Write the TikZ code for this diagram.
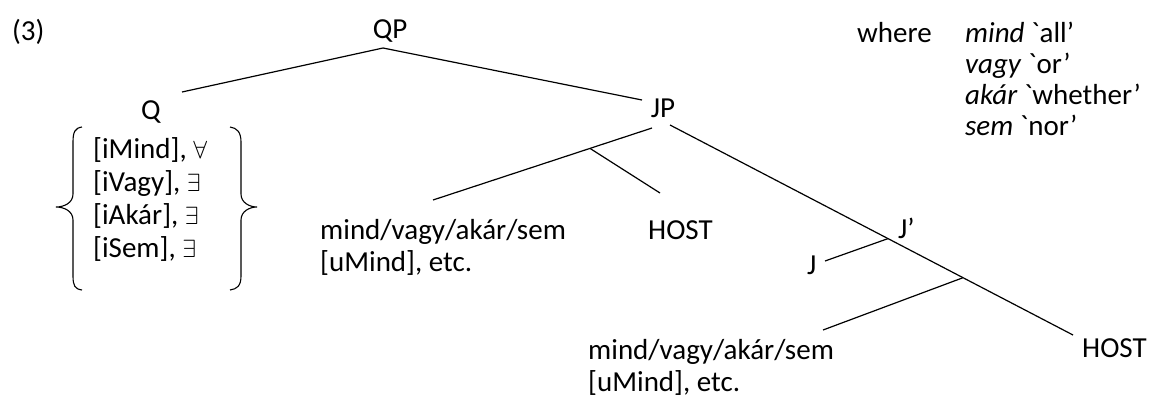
\documentclass[tikz,border=0pt]{standalone}
\usepackage{fontspec}
\setmainfont{Carlito}
\begin{document}
\begin{tikzpicture}[x=1pt,y=-1pt,
  lbl/.style={font=\fontsize{29}{32}\selectfont, inner sep=0pt, anchor=base west},
  lblc/.style={font=\fontsize{29}{32}\selectfont, inner sep=0pt, anchor=base},
  ln/.style={line width=1.2pt},
  brc/.style={line width=1.1pt}]
\useasboundingbox (0,0) rectangle (1164,400);
% labels
\node[lbl] (ex) at (12,40) {(3)};
\node[lblc] (qp) at (390,38) {QP};
\node[lblc] (q) at (151,119) {Q};
\node[lblc] (jp) at (663,117) {JP};
\node[lbl] (r1) at (93,158) {[iMind], $\forall$};
\node[lbl] (r2) at (93,191) {[iVagy], $\exists$};
\node[lbl] (r3) at (93,224) {[iAkár], $\exists$};
\node[lbl] (r4) at (93,257) {[iSem], $\exists$};
\node[lbl] (mva) at (320,239) {mind/vagy/akár/sem};
\node[lbl] (uma) at (320,271) {[uMind], etc.};
\node[lbl] (hosta) at (648,239) {HOST};
\node[lbl] (jbar) at (898,238) {J’};
\node[lbl] (j) at (807,274) {J};
\node[lbl] (mvb) at (588,359) {mind/vagy/akár/sem};
\node[lbl] (umb) at (588,391) {[uMind], etc.};
\node[lbl] (hostb) at (1082,357) {HOST};
\node[lbl] (where) at (857,42) {where};
\node[lbl] (g1) at (965,42) {\textit{mind} \textasciigrave all’};
\node[lbl] (g2) at (965,73) {\textit{vagy} \textasciigrave or’};
\node[lbl] (g3) at (965,104) {\textit{akár} \textasciigrave whether’};
\node[lbl] (g4) at (965,135) {\textit{sem} \textasciigrave nor’};
% tree coordinates
\coordinate (qpt) at (383,48);
\coordinate (qtop) at (182,92);
\coordinate (jptop) at (642,100);
\coordinate (jpbot) at (670,125);
\coordinate (jpl) at (652,128);
\coordinate (mvatop) at (433,200);
\coordinate (mid1) at (590,148.4);
\coordinate (hostatop) at (660,193);
\coordinate (jbarpt) at (888,238.6);
\coordinate (jend) at (825,261);
\coordinate (mid2) at (963,277.7);
\coordinate (mvbtop) at (823,330);
\coordinate (hostbtop) at (1073,335);
\draw[ln] (qtop) -- (qpt) -- (jptop);
\draw[ln] (jpl) -- (mvatop);
\draw[ln] (mid1) -- (hostatop);
\draw[ln] (jpbot) -- (hostbtop);
\draw[ln] (jbarpt) -- (jend);
\draw[ln] (mid2) -- (mvbtop);
% braces
\draw[brc] (82,127) .. controls (75,128) and (73,132) .. (73,142) -- (73,194)
  .. controls (73,203) and (64,207) .. (56,207)
  .. controls (64,207) and (73,211) .. (73,220) -- (73,276)
  .. controls (73,286) and (75,289) .. (82,290);
\draw[brc] (230,127) .. controls (237,128) and (241,132) .. (241,142) -- (241,194)
  .. controls (241,203) and (250,207) .. (257,207)
  .. controls (250,207) and (241,211) .. (241,220) -- (241,276)
  .. controls (241,286) and (237,289) .. (230,290);
\end{tikzpicture}
\end{document}
